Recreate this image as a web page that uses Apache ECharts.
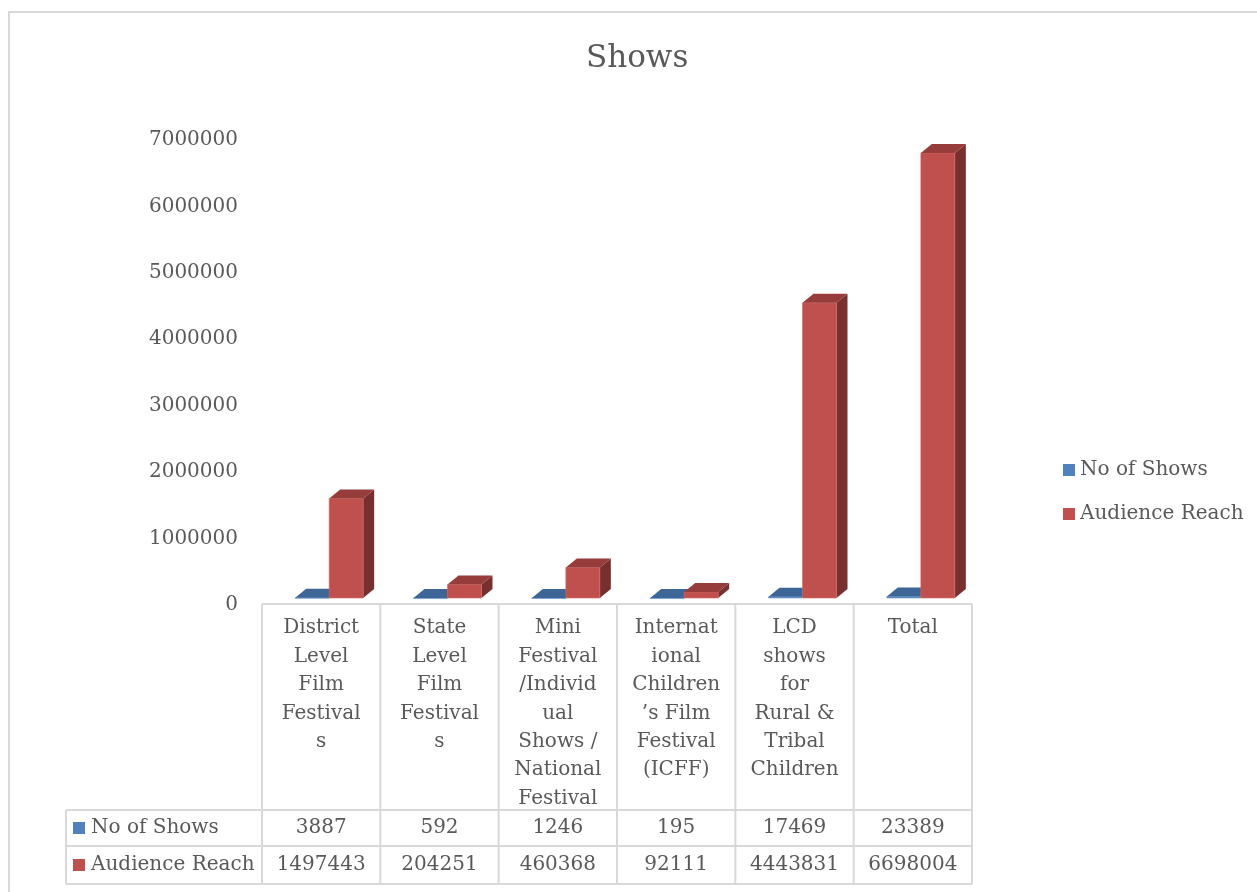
<!DOCTYPE html>
<html>
<head>
<meta charset="utf-8">
<title>Shows</title>
<script src="https://cdn.jsdelivr.net/npm/echarts@6/dist/echarts.min.js"></script>
<style>
  html, body { margin: 0; padding: 0; background: #ffffff; }
  #chart { width: 1257px; height: 892px; }
</style>
</head>
<body>
<div id="chart"></div>
<script>
// Category names, wrapped the way the data table shows them
const categories = [
  'District\nLevel\nFilm\nFestival\ns',
  'State\nLevel\nFilm\nFestival\ns',
  'Mini\nFestival\n/Individ\nual\nShows /\nNational\nFestival',
  'Internat\nional\nChildren\n\u2019s Film\nFestival\n(ICFF)',
  'LCD\nshows\nfor\nRural &\nTribal\nChildren',
  'Total'
];
const seriesNames = ['No of Shows', 'Audience Reach'];
const noOfShows = [3887, 592, 1246, 195, 17469, 23389];
const audienceReach = [1497443, 204251, 460368, 92111, 4443831, 6698004];
const yTicks = [0, 1000000, 2000000, 3000000, 4000000, 5000000, 6000000, 7000000];

const FONT = 'DejaVu Serif';
const FS = 20;
const TEXT = '#595959';
const LINE = '#D9D9D9';

// front / top / side shades for each series
const shades = [
  { front: '#4F81BD', top: '#3D6595', side: '#2E4D73' },
  { front: '#C0504D', top: '#963C3A', side: '#78302E' }
];

const BAR_W = 34, SHIFT = 8, DEPTH_X = 11, DEPTH_Y = 9, LIFT = 7;

function makeRender(s) {
  const c = shades[s];
  return function (params, api) {
    const idx = api.value(0);
    const topPt = api.coord([idx, api.value(1)]);
    const basePt = api.coord([idx, 0]);
    const left = basePt[0] + SHIFT - BAR_W + s * BAR_W;
    const right = left + BAR_W;
    const top = topPt[1] - LIFT;
    const bottom = basePt[1] - LIFT;
    return {
      type: 'group',
      children: [
        { type: 'polygon', shape: { points: [[right, top], [right + DEPTH_X, top - DEPTH_Y], [right + DEPTH_X, bottom - DEPTH_Y], [right, bottom]] }, style: { fill: c.side } },
        { type: 'rect', shape: { x: left, y: top, width: BAR_W, height: Math.max(bottom - top, 0.6) }, style: { fill: c.front, stroke: s === 0 ? '#6E9BD1' : '#D46A66', lineWidth: 0.6 } },
        { type: 'polygon', shape: { points: [[left, top], [left + DEPTH_X, top - DEPTH_Y], [right + DEPTH_X, top - DEPTH_Y], [right, top]] }, style: { fill: c.top } }
      ]
    };
  };
}

const seriesData = [noOfShows, audienceReach];

const chart = echarts.init(document.getElementById('chart'), null, { renderer: 'canvas' });

const option = {
  backgroundColor: '#ffffff',
  animation: false,
  title: {
    text: 'Shows',
    left: 581,
    top: 34,
    textStyle: { fontFamily: FONT, fontSize: 31, fontWeight: 'normal', color: TEXT, lineHeight: 40 }
  },
  legend: {
    orient: 'vertical',
    left: 1058,
    top: 453,
    itemGap: 20,
    itemWidth: 12,
    itemHeight: 12,
    icon: 'rect',
    textStyle: { fontFamily: FONT, fontSize: FS, color: TEXT, lineHeight: 24 },
    data: seriesNames
  },
  grid: { left: 262, right: 285, top: 140, bottom: 287, containLabel: false },
  xAxis: {
    type: 'category',
    data: categories,
    axisLine: { show: false },
    axisTick: { show: false },
    axisLabel: {
      interval: 0,
      margin: 9,
      fontFamily: FONT,
      fontSize: FS,
      lineHeight: 28.4,
      color: TEXT,
      verticalAlign: 'top'
    }
  },
  yAxis: {
    type: 'value',
    min: yTicks[0],
    max: yTicks[yTicks.length - 1],
    interval: yTicks[1] - yTicks[0],
    axisLine: { show: false },
    axisTick: { show: false },
    splitLine: { show: false },
    axisLabel: { margin: 24, fontFamily: FONT, fontSize: FS, color: TEXT, formatter: v => String(v) }
  },
  series: seriesNames.map((name, s) => ({
    name: name,
    type: 'custom',
    renderItem: makeRender(s),
    itemStyle: { color: shades[s].front },
    encode: { x: 0, y: 1 },
    data: seriesData[s].map((v, i) => [i, v])
  }))
};

chart.setOption(option);

// Data table under the plot, laid out from the category axis positions
function buildTable() {
  const n = categories.length;
  const centers = categories.map((_, i) => chart.convertToPixel({ xAxisIndex: 0 }, i));
  const step = centers[1] - centers[0];
  const colEdges = [];
  for (let i = 0; i <= n; i++) colEdges.push(centers[0] - step / 2 + i * step);
  const zeroY = chart.convertToPixel({ yAxisIndex: 0 }, 0);

  const tableTop = zeroY - 1;
  const rowTops = [810, 846, 884];
  const labelLeft = 66;
  const g = [];
  const lineStyle = { stroke: LINE, lineWidth: 2 };
  const font = FS + 'px "' + FONT + '"';

  g.push({ type: 'rect', shape: { x: 9, y: 12, width: 1260, height: 900 }, style: { fill: null, stroke: LINE, lineWidth: 2 }, silent: true, z: -1 });

  g.push({ type: 'line', shape: { x1: colEdges[0], y1: tableTop, x2: colEdges[n], y2: tableTop }, style: lineStyle });
  rowTops.forEach(y => g.push({ type: 'line', shape: { x1: labelLeft, y1: y, x2: colEdges[n], y2: y }, style: lineStyle }));
  colEdges.forEach(x => g.push({ type: 'line', shape: { x1: x, y1: tableTop, x2: x, y2: rowTops[2] }, style: lineStyle }));
  g.push({ type: 'line', shape: { x1: labelLeft, y1: rowTops[0], x2: labelLeft, y2: rowTops[2] }, style: lineStyle });

  seriesNames.forEach((name, s) => {
    const cy = (rowTops[s] + rowTops[s + 1]) / 2;
    g.push({ type: 'rect', shape: { x: 73, y: cy - 6, width: 12, height: 12 }, style: { fill: shades[s].front } });
    g.push({ type: 'text', x: 91, y: cy, style: { text: name, font: font, fill: TEXT, textAlign: 'left', textVerticalAlign: 'middle' } });
    seriesData[s].forEach((v, i) => {
      g.push({ type: 'text', x: centers[i], y: cy, style: { text: String(v), font: font, fill: TEXT, textAlign: 'center', textVerticalAlign: 'middle' } });
    });
  });

  chart.setOption({ graphic: { elements: g } });
}

buildTable();
</script>
</body>
</html>
